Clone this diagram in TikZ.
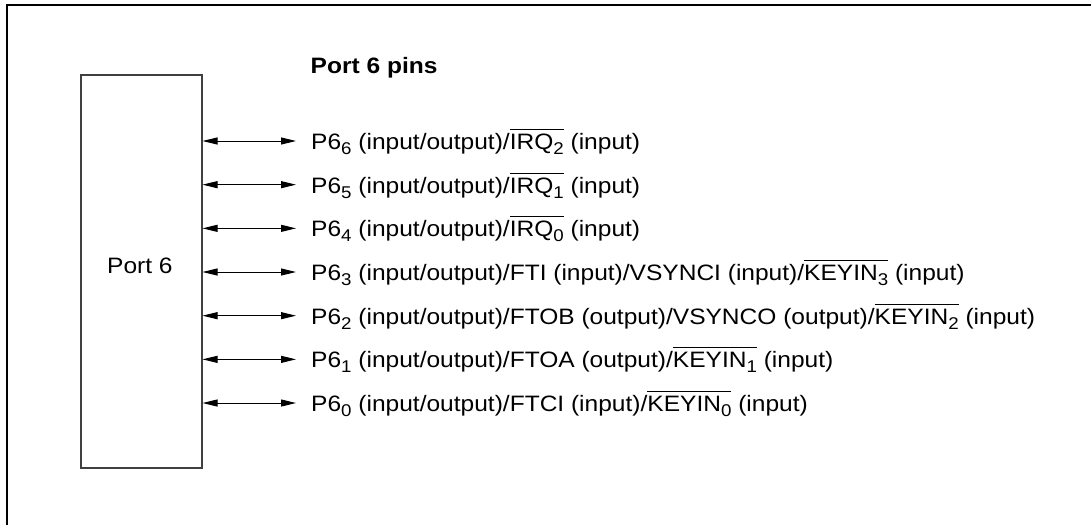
\documentclass[tikz,border=0pt]{standalone}
\usepackage{fontspec}
\setmainfont[FakeStretch=1.10]{Liberation Sans}
\usetikzlibrary{arrows.meta}
\newcommand\ovl[1]{\setbox0\hbox{#1}\rlap{\rule[\dimexpr\ht0+4pt\relax]{\wd0}{1pt}}\box0\relax}
\newcommand\sub[1]{\raisebox{-5pt}{\fontsize{17}{17}\selectfont #1}}
\tikzset{
  frame/.style={line width=2.6pt, black},
  portbox/.style={draw=black!75, line width=1.5pt, minimum width=121pt, minimum height=393pt, anchor=north west, inner sep=0pt},
  pin/.style={line width=1pt, {Triangle[length=15pt,width=7pt]}-{Triangle[length=15pt,width=7pt]}},
  lbl/.style={anchor=base west, inner sep=0pt, font=\fontsize{22.3}{26}\selectfont},
}
\begin{document}
\begin{tikzpicture}[x=1pt,y=-1pt]
\useasboundingbox (0,0) rectangle (1091,525);
\coordinate (fl) at (7,525);
\coordinate (fc) at (7,5);
\coordinate (fr) at (1091,5);
\draw[frame] (fl) -- (fc) -- (fr);
\node[portbox] (box) at (80,74) {};
\node[lbl] (port) at (107,273.3) {Port 6};
\node[lbl, font=\fontsize{22.3}{26}\selectfont\bfseries] (title) at (310.5,73.4) {Port 6 pins};
\foreach \i/\t in {
 0/{P6\sub{6} (input/output)/\ovl{IRQ\sub{2}} (input)},
 1/{P6\sub{5} (input/output)/\ovl{IRQ\sub{1}} (input)},
 2/{P6\sub{4} (input/output)/\ovl{IRQ\sub{0}} (input)},
 3/{P6\sub{3} (input/output)/FTI (input)/VSYNCI (input)/\ovl{KEYIN\sub{3}} (input)},
 4/{P6\sub{2} (input/output)/FTOB (output)/VSYNCO (output)/\ovl{KEYIN\sub{2}} (input)},
 5/{P6\sub{1} (input/output)/FTOA (output)/\ovl{KEYIN\sub{1}} (input)},
 6/{P6\sub{0} (input/output)/FTCI (input)/\ovl{KEYIN\sub{0}} (input)}} {
  \coordinate (a\i) at (296,{141+43.67*\i});
  \node[lbl] (t\i) at (311,{141+43.67*\i+8.4}) {\t};
  \draw[pin] (box.east |- a\i) -- (a\i);
}
\end{tikzpicture}
\end{document}
